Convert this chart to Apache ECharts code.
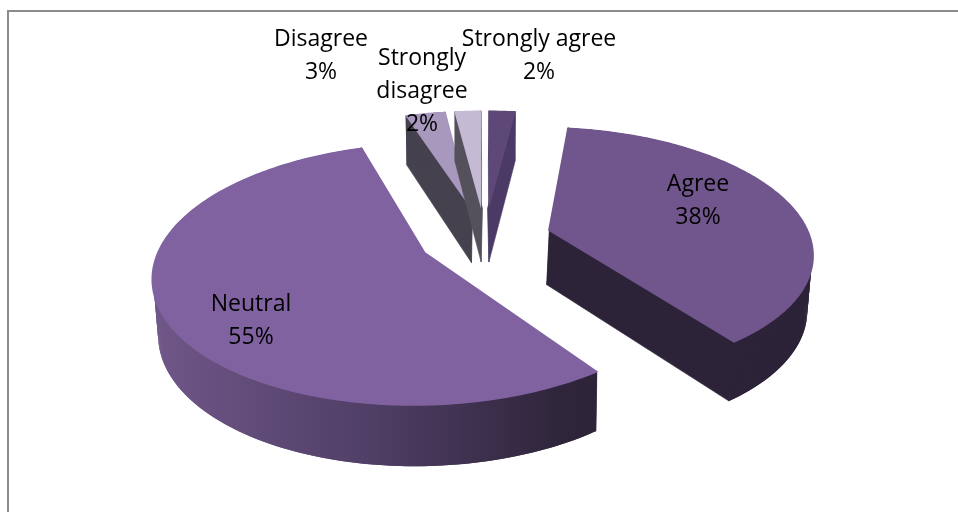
<!DOCTYPE html>
<html><head><meta charset="utf-8">
<style>html,body{margin:0;padding:0;background:#fff}#c{width:958px;height:512px}</style>
<script src="https://cdn.jsdelivr.net/npm/echarts@6/dist/echarts.min.js"></script></head>
<body><div id="c"></div>
<script>
const categories = ['Strongly agree','Agree','Neutral','Disagree','Strongly disagree'];
const seriesValues = [2,38,55,3,2];
const labelLines = [['Strongly agree','2%'],['Agree','38%'],['Neutral','55%'],['Disagree','3%'],['Strongly','disagree','2%']];
const labelCenters = [[539,56],[698,201],[251,321],[321,56],[422,91]];
const faceColors = ['#5E4877','#70568C','#7F629F','#A898BD','#C4BAD3'];
const wallColors = ['#4C3A66','#2C2338','#2C2338','#45414E','#55515C'];

const view = {cx:485,cy:238,a:263,b:123,p:0.165,explode:0.25,depth:54.6,shrink:0.98,inset:0.006};
function project(u,v,low){
  const w = 1 - view.p*v;
  const x = view.a*u/w, y = view.b*v/w;
  return low ? [view.cx + x*view.shrink, view.cy + y + view.depth/Math.sqrt(w)] : [view.cx + x, view.cy + y];
}
const total = seriesValues.reduce((s,v)=>s+v,0);
function poly(pts,fill,edge){
  const style = {fill};
  if(edge){style.stroke=fill;style.lineWidth=0.6;}
  return {type:'polygon',shape:{points:pts},style};
}
function renderItem(params,api){
  const i = params.dataIndex;
  let before = 0;
  for(let k=0;k<i;k++) before += seriesValues[k];
  const val = api.value(1);
  const a0 = before/total*2*Math.PI, a1 = (before+val)/total*2*Math.PI, mid=(a0+a1)/2;
  const ox = view.explode*Math.sin(mid), oy = -view.explode*Math.cos(mid);
  const n = Math.max(6,Math.ceil(val*4));
  const arc = (low,r) => { const out=[]; for(let k=0;k<=n;k++){const t=a0+(a1-a0)*k/n; out.push(project(ox+r*Math.sin(t),oy-r*Math.cos(t),low));} return out; };
  const top = arc(false,1), wallTop = arc(false,1-view.inset), bot = arc(true,1);
  const tipT = project(ox,oy,false), tipB = project(ox,oy,true);
  const radial = (t,side) => {
    const nx = view.inset*Math.sin(t+side), ny = -view.inset*Math.cos(t+side);
    return poly([project(ox+nx,oy+ny,false),project(ox+nx+Math.sin(t),oy+ny-Math.cos(t),false),
                 project(ox+Math.sin(t),oy-Math.cos(t),true),tipB],wallColors[i],true);
  };
  const children = [radial(a0,Math.PI/2),radial(a1,-Math.PI/2)];
  let wallFill = wallColors[i];
  if(categories[i]==='Neutral'){
    const xs = top.map(p=>p[0]);
    wallFill = new echarts.graphic.LinearGradient(Math.min(...xs),0,Math.max(...xs),0,[
      {offset:0,color:'#705789'},{offset:0.5,color:'#4F3E65'},{offset:0.9,color:'#30263C'},{offset:1,color:'#2E2438'}],true);
  }
  for(let k=0;k<n;k++){
    const e = Math.min(n,k+2);
    children.push(poly([wallTop[k],wallTop[e],bot[e],bot[k]],wallFill,false));
  }
  children.push(poly([tipT].concat(top),faceColors[i],false));
  return {type:'group',children};
}
function renderLabel(params,api){
  const i = params.dataIndex;
  return {type:'text',x:labelCenters[i][0],y:labelCenters[i][1],z2:100,
    style:{text:labelLines[i].join('\n'),fill:'#000',font:'23px "Open Sans"',lineHeight:33,align:'center',verticalAlign:'middle'}};
}
const rows = categories.map((c,i)=>[c,seriesValues[i]]);
const chart = echarts.init(document.getElementById('c'),null,{renderer:'canvas'});
chart.setOption({
  animation:false,backgroundColor:'#fff',
  graphic:[
    {type:'rect',shape:{x:7,y:10,width:951,height:2},style:{fill:'#8C8C8C'},silent:true},
    {type:'rect',shape:{x:7,y:10,width:2,height:502},style:{fill:'#8C8C8C'},silent:true}
  ],
  series:[
    {type:'custom',coordinateSystem:'none',renderItem,data:rows,z:2,silent:true},
    {type:'custom',coordinateSystem:'none',renderItem:renderLabel,data:rows,z:3,silent:true}
  ]
});
</script></body></html>
